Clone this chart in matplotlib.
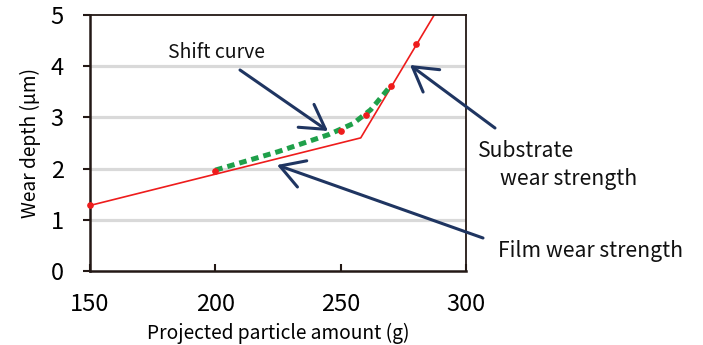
import matplotlib.pyplot as plt

plt.rcParams['font.family'] = ['Noto Sans CJK JP', 'DejaVu Sans']

# measured wear depth
meas_x = [150, 200, 250, 260, 270, 280]
meas_y = [1.28, 1.95, 2.73, 3.04, 3.62, 4.43]

# fitted film / substrate lines
fit_x = [150, 258, 290]
fit_y = [1.28, 2.6, 5.22]

# shift curve
shift_x = [200, 225, 245, 255, 262, 270]
shift_y = [1.97, 2.33, 2.66, 2.88, 3.15, 3.62]

x_ticks = [150, 200, 250, 300]
y_ticks = [0, 1, 2, 3, 4, 5]

W, H = 703, 345
fig = plt.figure(figsize=(W / 100, H / 100), dpi=100)
ax = fig.add_axes([90 / W, 1 - 271 / H, 376 / W, 256 / H])

dark = '#231815'
navy = '#1f3561'

ax.set_xlim(150, 300)
ax.set_ylim(0, 5)
for y in [1, 2, 3, 4]:
    ax.axhline(y, color='#d9d9d9', lw=2.3, zorder=1)

ax.plot(fit_x, fit_y, color='#ee1c1c', lw=1.2, zorder=2)
ax.plot(shift_x, shift_y, color='#1fa04a', lw=3.6, ls=(0, (1.5, 1.0)), zorder=3)
ax.plot(meas_x, meas_y, 'o', color='#ee1c1c', ms=3.8, zorder=4, clip_on=False)

for s in ['left', 'bottom']:
    ax.spines[s].set_linewidth(1.8)
    ax.spines[s].set_color(dark)
for s in ['top', 'right']:
    ax.spines[s].set_linewidth(1.3)
    ax.spines[s].set_color(dark)

ax.set_xticks(x_ticks)
ax.set_yticks(y_ticks)
ax.tick_params(axis='x', direction='in', length=5, width=1.5, color=dark, pad=16, labelsize=17)
ax.tick_params(axis='y', direction='out', length=5, width=1.5, color=dark, pad=14, labelsize=17)

ax.set_xlabel('Projected particle amount (g)', fontsize=13.8, labelpad=5)
ax.set_ylabel('Wear depth (μm)', fontsize=13.8, labelpad=7)

arrow = dict(arrowstyle='->,head_length=0.85,head_width=0.5', color=navy, lw=2.2,
             mutation_scale=20, shrinkA=0, shrinkB=0)


def px(x, y):
    return (x, H - y)


ax.annotate('', xy=px(328, 131), xytext=px(240, 70), xycoords='figure pixels',
            textcoords='figure pixels', arrowprops=arrow, annotation_clip=False)
ax.annotate('', xy=px(277, 165), xytext=px(483, 238), xycoords='figure pixels',
            textcoords='figure pixels', arrowprops=arrow, annotation_clip=False)
ax.annotate('', xy=px(410, 65), xytext=px(495, 128), xycoords='figure pixels',
            textcoords='figure pixels', arrowprops=arrow, annotation_clip=False)

fig.text(168 / W, 1 - 58 / H, 'Shift curve', fontsize=14, color='#111111')
fig.text(478 / W, 1 - 157 / H, 'Substrate', fontsize=15.2, color='#111111')
fig.text(500 / W, 1 - 185 / H, 'wear strength', fontsize=15.2, color='#111111')
fig.text(498 / W, 1 - 257 / H, 'Film wear strength', fontsize=15.2, color='#111111')

fig.savefig('out.png', dpi=100)
